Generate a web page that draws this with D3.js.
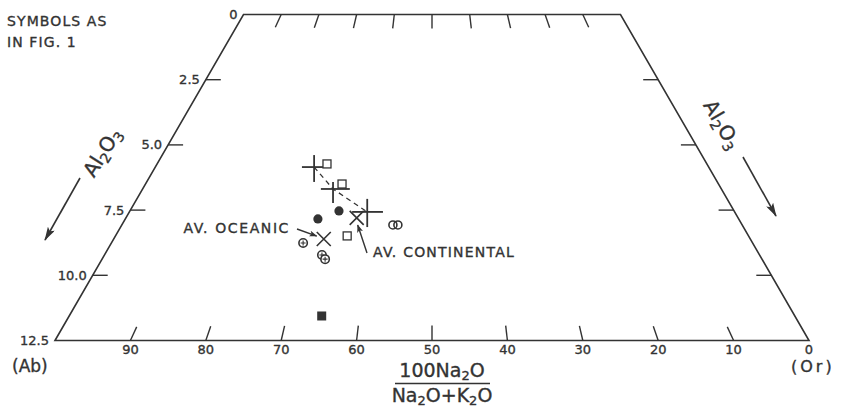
<!DOCTYPE html>
<html>
<head>
<meta charset="utf-8">
<script src="https://cdn.jsdelivr.net/npm/d3@7"></script>
<style>
  body { margin: 0; background: #fff; }
  svg text { font-family: "DejaVu Sans", sans-serif; fill: #333; stroke: #333; stroke-width: 0.35px; }
</style>
</head>
<body>
<svg id="chart" width="842" height="408"></svg>
<script>
// ratio = 100 Na2O / (Na2O + K2O), al = Al2O3
var ratioTicks = [90, 80, 70, 60, 50, 40, 30, 20, 10];
var ratioLabels = ["90", "80", "70", "60", "50", "40", "30", "20", "10", "0"];
var ratioLabelValues = [90, 80, 70, 60, 50, 40, 30, 20, 10, 0];
var alTicks = [2.5, 5.0, 7.5, 10.0];
var alLabelValues = [0, 2.5, 5.0, 7.5, 10.0, 12.5];
var alLabels = ["0", "2.5", "5.0", "7.5", "10.0", "12.5"];

// "+" symbols with their spreads, joined by the dashed line
var crossRatio = [71.3, 67.1, 60.7];
var crossAl = [5.85, 6.69, 7.57];
var crossRatioHi = [73.5, 69.2, 63.2];
var crossRatioLo = [69.7, 64.2, 58.1];
var crossAlLo = [5.39, 6.42, 7.07];
var crossAlHi = [6.42, 7.23, 8.15];

var openSquareRatio = [69.1, 65.7, 63.4];
var openSquareAl = [5.73, 6.50, 8.49];
var filledCircleRatio = [68.6, 65.4];
var filledCircleAl = [7.84, 7.53];
var openCircleRatio = [56.3, 55.5];
var openCircleAl = [8.07, 8.07];
var plusCircleRatio = [70.1, 66.8, 66.2];
var plusCircleAl = [8.76, 9.22, 9.38];
var filledSquareRatio = [65.2];
var filledSquareAl = [11.56];
var averageNames = ["AV. OCEANIC", "AV. CONTINENTAL"];
var averageRatio = [67.0, 62.3];
var averageAl = [8.61, 7.80];

var ink = "#333";
var svg = d3.select("#chart");

var cx = 432;
var yScale = d3.scaleLinear().domain([0, 12.5]).range([14.5, 340.5]);
var halfWidth = d3.scaleLinear().domain([0, 12.5]).range([188.5, 377]);
var ratioFrac = d3.scaleLinear().domain([100, 0]).range([-1, 1]);

function project(r, a) {
    return [cx + ratioFrac(r) * halfWidth(a), yScale(a)];
}

var defs = svg.append("defs");
defs.append("marker").attr("id", "bigHead")
    .attr("viewBox", "0 0 14 8").attr("refX", 13).attr("refY", 4)
    .attr("markerWidth", 14).attr("markerHeight", 8).attr("markerUnits", "userSpaceOnUse")
    .attr("orient", "auto")
    .append("path").attr("d", "M0,0 L14,4 L0,8 L3,4 Z").attr("fill", ink);
defs.append("marker").attr("id", "smallHead")
    .attr("viewBox", "0 0 8 6").attr("refX", 7.5).attr("refY", 3)
    .attr("markerWidth", 8).attr("markerHeight", 6).attr("markerUnits", "userSpaceOnUse")
    .attr("orient", "auto")
    .append("path").attr("d", "M0,0 L8,3 L0,6 L2,3 Z").attr("fill", ink);

// frame
var corners = [project(100, 12.5), project(100, 0), project(0, 0), project(0, 12.5)];
svg.append("path")
    .attr("d", d3.line()(corners) + "Z")
    .attr("fill", "none").attr("stroke", ink).attr("stroke-width", 1.6)
    .attr("stroke-linejoin", "miter");

// radial ticks on top and bottom edges
function radialTick(r, fromAl, toAl, len) {
    var p = project(r, fromAl), q = project(r, toAl);
    var dx = q[0] - p[0], dy = q[1] - p[1], d = Math.sqrt(dx * dx + dy * dy);
    return [p, [p[0] + dx / d * len, p[1] + dy / d * len]];
}
var tickG = svg.append("g").attr("stroke", ink).attr("stroke-width", 1.4);
tickG.selectAll(".bt").data(ratioTicks).enter().append("line")
    .each(function (r) {
        var t = radialTick(r, 12.5, 0, 15);
        d3.select(this).attr("x1", t[0][0]).attr("y1", t[0][1]).attr("x2", t[1][0]).attr("y2", t[1][1]);
    });
tickG.selectAll(".tt").data(ratioTicks).enter().append("line")
    .each(function (r) {
        var t = radialTick(r, 0, 12.5, 14);
        d3.select(this).attr("x1", t[0][0]).attr("y1", t[0][1]).attr("x2", t[1][0]).attr("y2", t[1][1]);
    });
tickG.selectAll(".lt").data(alTicks).enter().append("line")
    .attr("x1", function (a) { return project(100, a)[0]; })
    .attr("x2", function (a) { return project(100, a)[0] + 15; })
    .attr("y1", function (a) { return yScale(a); })
    .attr("y2", function (a) { return yScale(a); });
tickG.selectAll(".rt").data(alTicks).enter().append("line")
    .attr("x1", function (a) { return project(0, a)[0]; })
    .attr("x2", function (a) { return project(0, a)[0] - 15; })
    .attr("y1", function (a) { return yScale(a); })
    .attr("y2", function (a) { return yScale(a); });

// tick labels
svg.selectAll(".rl").data(ratioLabelValues).enter().append("text")
    .attr("x", function (r) { return project(r, 12.5)[0]; })
    .attr("y", 354)
    .attr("text-anchor", "middle").attr("font-size", 13)
    .text(function (r, i) { return ratioLabels[i]; });
svg.selectAll(".al").data(alLabelValues).enter().append("text")
    .attr("x", function (a) { return project(100, a)[0] - 6; })
    .attr("y", function (a) { return yScale(a) + 4.5; })
    .attr("text-anchor", "end").attr("font-size", 13)
    .text(function (a, i) { return alLabels[i]; });

// end members and axis title
svg.append("text").attr("x", 12).attr("y", 372).attr("font-size", 17).text("(Ab)");
svg.append("text").attr("x", 791).attr("y", 372).attr("font-size", 16).attr("letter-spacing", 3).text("(Or)");

var num = svg.append("text").attr("x", 442).attr("y", 377).attr("text-anchor", "middle").attr("font-size", 19);
num.append("tspan").text("100Na");
num.append("tspan").attr("font-size", 13).attr("dy", 3).text("2");
num.append("tspan").attr("dy", -3).text("O");
svg.append("line").attr("x1", 395).attr("x2", 490).attr("y1", 383.5).attr("y2", 383.5)
    .attr("stroke", ink).attr("stroke-width", 1.4);
var den = svg.append("text").attr("x", 442).attr("y", 402).attr("text-anchor", "middle").attr("font-size", 19);
den.append("tspan").text("Na");
den.append("tspan").attr("font-size", 13).attr("dy", 3).text("2");
den.append("tspan").attr("dy", -3).text("O+K");
den.append("tspan").attr("font-size", 13).attr("dy", 3).text("2");
den.append("tspan").attr("dy", -3).text("O");

// Al2O3 labels along the slanted sides
function alTitle(x, y, angle) {
    var t = svg.append("text").attr("text-anchor", "middle").attr("font-size", 20)
        .attr("transform", "translate(" + x + "," + y + ") rotate(" + angle + ")");
    t.append("tspan").text("Al");
    t.append("tspan").attr("font-size", 14).attr("dy", 4).text("2");
    t.append("tspan").attr("dy", -4).text("O");
    t.append("tspan").attr("font-size", 14).attr("dy", 4).text("3");
}
alTitle(108, 156, -58);
alTitle(716, 128, 60);
svg.append("line").attr("x1", 80).attr("y1", 178).attr("x2", 45).attr("y2", 240)
    .attr("stroke", ink).attr("stroke-width", 1.6).attr("marker-end", "url(#bigHead)");
svg.append("line").attr("x1", 743).attr("y1", 157).attr("x2", 776).attr("y2", 216)
    .attr("stroke", ink).attr("stroke-width", 1.6).attr("marker-end", "url(#bigHead)");

svg.append("text").attr("x", 7).attr("y", 26).attr("font-size", 14).attr("letter-spacing", 1.1).text("SYMBOLS AS");
svg.append("text").attr("x", 7).attr("y", 47).attr("font-size", 14).attr("letter-spacing", 1.1).text("IN FIG. 1");

// data symbols
var crossPts = crossRatio.map(function (r, i) { return project(r, crossAl[i]); });
svg.append("path").attr("d", d3.line()(crossPts))
    .attr("fill", "none").attr("stroke", ink).attr("stroke-width", 1.3).attr("stroke-dasharray", "5,4");

var crossG = svg.append("g").attr("stroke", ink).attr("stroke-width", 1.8);
crossRatio.forEach(function (r, i) {
    var c = crossPts[i];
    crossG.append("line")
        .attr("x1", project(crossRatioHi[i], crossAl[i])[0]).attr("x2", project(crossRatioLo[i], crossAl[i])[0])
        .attr("y1", c[1]).attr("y2", c[1]);
    crossG.append("line")
        .attr("x1", c[0]).attr("x2", c[0])
        .attr("y1", yScale(crossAlLo[i])).attr("y2", yScale(crossAlHi[i]));
});

svg.selectAll(".osq").data(openSquareRatio).enter().append("rect")
    .attr("x", function (r, i) { return project(r, openSquareAl[i])[0] - 4; })
    .attr("y", function (r, i) { return project(r, openSquareAl[i])[1] - 4; })
    .attr("width", 8).attr("height", 8)
    .attr("fill", "#fff").attr("stroke", ink).attr("stroke-width", 1.3);

svg.selectAll(".fsq").data(filledSquareRatio).enter().append("rect")
    .attr("x", function (r, i) { return project(r, filledSquareAl[i])[0] - 4.5; })
    .attr("y", function (r, i) { return project(r, filledSquareAl[i])[1] - 4.5; })
    .attr("width", 9).attr("height", 9).attr("fill", ink);

svg.selectAll(".fc").data(filledCircleRatio).enter().append("circle")
    .attr("cx", function (r, i) { return project(r, filledCircleAl[i])[0]; })
    .attr("cy", function (r, i) { return project(r, filledCircleAl[i])[1]; })
    .attr("r", 4.6).attr("fill", ink);

svg.selectAll(".oc").data(openCircleRatio).enter().append("circle")
    .attr("cx", function (r, i) { return project(r, openCircleAl[i])[0]; })
    .attr("cy", function (r, i) { return project(r, openCircleAl[i])[1]; })
    .attr("r", 4).attr("fill", "none").attr("stroke", ink).attr("stroke-width", 1.6);

var pcG = svg.selectAll(".pc").data(plusCircleRatio).enter().append("g")
    .attr("transform", function (r, i) {
        var p = project(r, plusCircleAl[i]);
        return "translate(" + p[0] + "," + p[1] + ")";
    });
pcG.append("circle").attr("r", 4.2).attr("fill", "#fff").attr("stroke", ink).attr("stroke-width", 1.6);
pcG.append("path").attr("d", "M-2.5,0H2.5M0,-2.5V2.5").attr("stroke", ink).attr("stroke-width", 1.1);

var avPts = averageRatio.map(function (r, i) { return project(r, averageAl[i]); });
svg.selectAll(".avx").data(avPts).enter().append("path")
    .attr("d", function (p) {
        return "M" + (p[0] - 7) + "," + (p[1] - 7) + "L" + (p[0] + 7) + "," + (p[1] + 7) +
            "M" + (p[0] - 7) + "," + (p[1] + 7) + "L" + (p[0] + 7) + "," + (p[1] - 7);
    })
    .attr("fill", "none").attr("stroke", ink).attr("stroke-width", 1.6);

// annotations for the averages
svg.append("text").attr("x", 290).attr("y", 233).attr("text-anchor", "end")
    .attr("font-size", 14).attr("letter-spacing", 1.6).text(averageNames[0]);
svg.append("line").attr("x1", 297).attr("y1", 229)
    .attr("x2", avPts[0][0] - 7).attr("y2", avPts[0][1] - 3)
    .attr("stroke", ink).attr("stroke-width", 1.4).attr("marker-end", "url(#smallHead)");
svg.append("text").attr("x", 373).attr("y", 257)
    .attr("font-size", 14).attr("letter-spacing", 1.2).text(averageNames[1]);
svg.append("line").attr("x1", 367).attr("y1", 253)
    .attr("x2", avPts[1][0] + 1).attr("y2", avPts[1][1] + 7)
    .attr("stroke", ink).attr("stroke-width", 1.4).attr("marker-end", "url(#smallHead)");
</script>
</body>
</html>
